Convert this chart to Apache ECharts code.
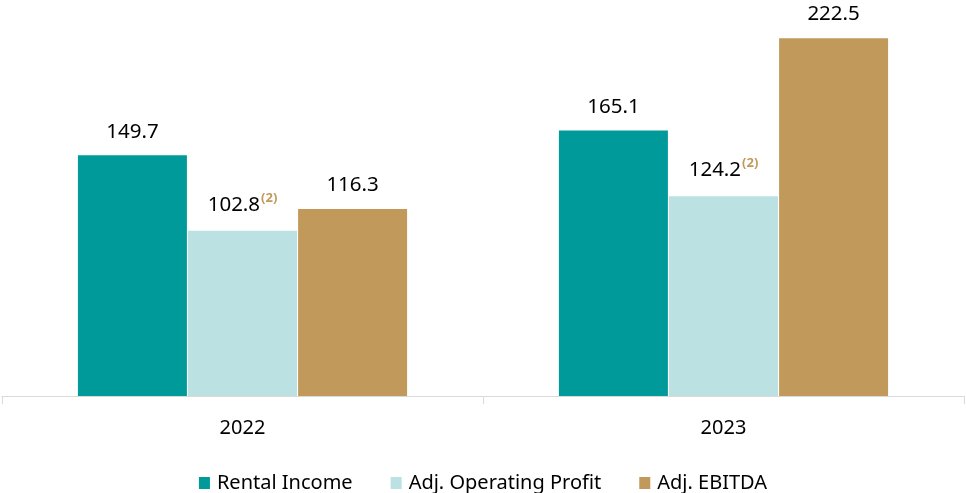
<!DOCTYPE html>
<html>
<head>
<meta charset="utf-8">
<script src="https://cdn.jsdelivr.net/npm/echarts@6/dist/echarts.min.js"></script>
<style>
  html, body { margin: 0; padding: 0; background: #fff; }
  #chart { width: 966px; height: 493px; }
</style>
</head>
<body>
<div id="chart"></div>
<script>
const years = ['2022', '2023'];
const rentalIncome = [149.7, 165.1];
const adjOperatingProfit = [102.8, 124.2];
const adjEbitda = [116.3, 222.5];
const opNotes = ['(2)', '(2)'];

const font = 'Noto Sans';
const chart = echarts.init(document.getElementById('chart'));

const labelBase = {
  show: true,
  position: 'top',
  distance: 13,
  color: '#000',
  fontFamily: font,
  fontSize: 20.5
};

chart.setOption({
  animation: false,
  textStyle: { fontFamily: font },
  grid: { left: 2, right: 2, top: 10, bottom: 97 },
  legend: {
    top: 468,
    left: 'center',
    itemWidth: 11,
    itemHeight: 12,
    itemGap: 38,
    icon: 'rect',
    textStyle: { fontSize: 20, color: '#000', fontFamily: font, padding: [0, 0, 0, 2] },
    data: ['Rental Income', 'Adj. Operating Profit', 'Adj. EBITDA']
  },
  xAxis: {
    type: 'category',
    data: years,
    axisLine: { lineStyle: { color: '#d9d9d9' } },
    axisTick: { show: true, length: 8, lineStyle: { color: '#d9d9d9' } },
    axisLabel: { margin: 22, fontSize: 20, color: '#000', fontFamily: font }
  },
  yAxis: {
    type: 'value',
    min: 0,
    max: 240,
    show: false,
    splitLine: { show: false }
  },
  series: [
    {
      name: 'Rental Income',
      type: 'bar',
      data: rentalIncome,
      barWidth: 109,
      barGap: '1%',
      itemStyle: { color: '#009A9A' },
      label: labelBase
    },
    {
      name: 'Adj. Operating Profit',
      type: 'bar',
      data: adjOperatingProfit,
      barWidth: 109,
      barGap: '1%',
      itemStyle: { color: '#BCE1E3' },
      label: Object.assign({}, labelBase, {
        formatter: p => '{v|' + p.value + '}{s|' + opNotes[p.dataIndex] + '}',
        rich: {
          v: { fontSize: 20.5, color: '#000', fontFamily: font, lineHeight: 26 },
          s: { fontSize: 13, fontWeight: 'bold', color: '#C19A5B', fontFamily: font, verticalAlign: 'top', padding: [0, 0, 12, 1] }
        }
      })
    },
    {
      name: 'Adj. EBITDA',
      type: 'bar',
      data: adjEbitda,
      barWidth: 109,
      barGap: '1%',
      itemStyle: { color: '#C19A5B' },
      label: labelBase
    }
  ]
});
</script>
</body>
</html>
